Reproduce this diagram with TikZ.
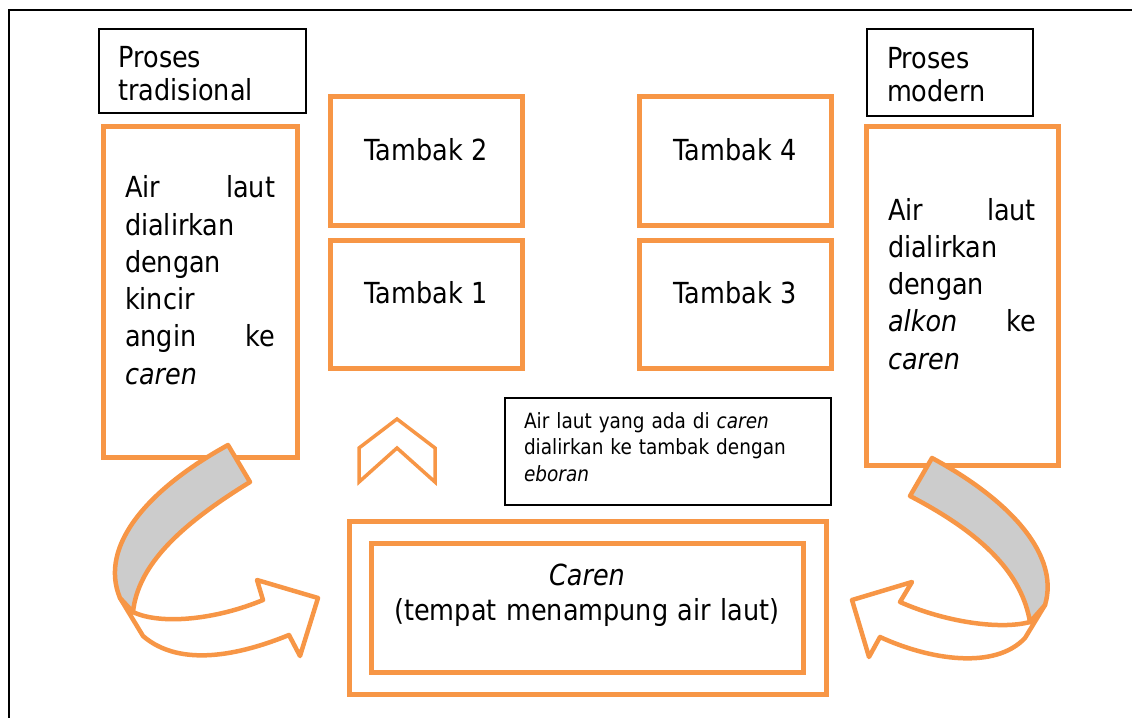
\documentclass[tikz,border=0pt]{standalone}
\usepackage{fontspec}
\setmainfont{DejaVu Sans}[FakeStretch=0.88]
\definecolor{oranye}{HTML}{F79646}
\definecolor{abu}{HTML}{CCCCCC}
\tikzset{
  kotak/.style={draw=oranye, line width=5pt},
  judul/.style={draw, line width=1.8pt, align=left, font=\fontsize{29}{33}\selectfont, text height=22pt},
  isi/.style={kotak, align=left, font=\fontsize{29}{37.3}\selectfont, text height=22pt},
  tambak/.style={kotak, minimum width=192pt, minimum height=129pt, font=\fontsize{29}{35}\selectfont, text height=22pt, text depth=23pt},
  panah/.style={draw=oranye, line width=4.5pt, line join=round},
}

\begin{document}
\begin{tikzpicture}[x=1pt, y=-1pt]
    \useasboundingbox (0,0) rectangle (1132,718);
    \draw [line width=2pt] (1132,10) -- (9,10) -- (9,718);

    % kiri: proses tradisional
    \node [judul, text width=168pt, minimum width=207pt, minimum height=84pt, text depth=30pt] (trad) at (202.5,71) {Proses\\tradisional};
    \node [isi, text width=150pt, minimum width=194pt, minimum height=331pt, text depth=209.6pt] (kiri) at (200,291.5)
      {Air\hfill laut\\dialirkan\\dengan\\kincir\\angin\hfill ke\\\textit{caren}};

    % tambak
    \node [tambak] (t2) at (426,160.5) {Tambak 2};
    \node [tambak, minimum height=128pt] (t1) at (426,304) {Tambak 1};
    \node [tambak] (t4) at (735,160.5) {Tambak 4};
    \node [tambak, minimum height=128pt] (t3) at (735,304) {Tambak 3};

    % kanan: proses modern
    \node [judul, text width=126pt, minimum width=166pt, minimum height=87pt, text depth=31pt] (modern) at (950,72.5) {Proses\\modern};
    \node [isi, text width=148pt, minimum width=192pt, minimum height=339pt, text depth=173pt] (kanan) at (962,295.5)
      {Air\hfill laut\\dialirkan\\dengan\\\textit{alkon}\hfill ke\\\textit{caren}};

    % keterangan
    \node [draw, line width=1.8pt, align=left, text width=288pt, minimum width=326pt, minimum height=107pt,
      font=\fontsize{21}{26.5}\selectfont, text height=16pt, text depth=63pt] (info) at (668,451.5)
      {Air laut yang ada di \textit{caren}\\dialirkan ke tambak dengan\\\textit{eboran}};

    % caren
    \node [kotak, minimum width=477pt, minimum height=173pt] (caren) at (587.5,607.5) {};
    \node [kotak, align=center, text width=420pt, minimum width=432pt, minimum height=129pt,
      font=\fontsize{29}{35}\selectfont, text height=22pt, text depth=65.6pt] (tampung) at (587,607.5)
      {\textit{Caren}\\(tempat menampung air laut)};

    % panah ke atas
    \draw [draw=oranye, line width=3.5pt] (359,482) -- (359,448) -- (397,419) -- (435,448) -- (435,482) -- (397,448) -- cycle;

    % panah lengkung kiri
    \filldraw [panah, fill=white] (133,612) .. controls (160,625) and (215,620) .. (263,600) -- (257,580) -- (318,598)
      -- (300,656) -- (289,635) .. controls (240,655) and (180,668) .. (143,636) -- (120,598) -- cycle;
    \filldraw [panah, fill=abu] (228,445) .. controls (150,488) and (98,545) .. (120,598) -- (133,612)
      .. controls (138,565) and (180,525) .. (250,482) -- cycle;

    % panah lengkung kanan
    \filldraw [panah, fill=white] (1030,622) .. controls (1000,630) and (945,622) .. (900,602) -- (912,582) -- (852,600)
      -- (869,657) -- (880,637) .. controls (930,660) and (995,670) .. (1025,638) -- (1045,605) -- cycle;
    \filldraw [panah, fill=abu] (932,458) .. controls (1010,500) and (1060,555) .. (1045,605) -- (1030,622)
      .. controls (1022,575) and (985,535) .. (910,496) -- cycle;
\end{tikzpicture}
\end{document}
